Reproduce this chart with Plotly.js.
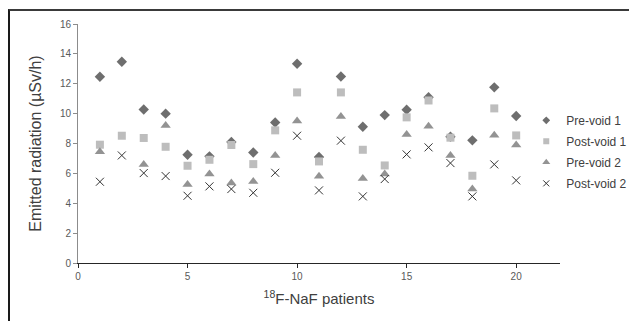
<!DOCTYPE html>
<html>
<head>
<meta charset="utf-8">
<script src="https://cdn.plot.ly/plotly-3.0.1.min.js"></script>
<style>
html,body{margin:0;padding:0;background:#fff;overflow:hidden;}
#wrap{position:relative;width:629px;height:321px;overflow:hidden;}
#chart{position:absolute;left:0;top:0;width:700px;height:321px;}
#frame{position:absolute;left:8px;top:9px;width:640px;height:330px;border-left:2px solid #1a1a1a;border-top:2px solid #3a3a3a;pointer-events:none;}
</style>
</head>
<body>
<div id="wrap"><div id="chart"></div><div id="frame"></div></div>
<script>
var patients = [1,2,3,4,5,6,7,8,9,10,11,12,13,14,15,16,17,18,19,20];
var preVoid1  = [12.47,13.47,10.28,10.0,7.25,7.14,8.1,7.4,9.41,13.34,7.1,12.49,9.12,9.9,10.26,11.1,8.45,8.21,11.76,9.84];
var postVoid1 = [7.92,8.52,8.37,7.78,6.51,6.91,7.9,6.62,8.88,11.42,6.8,11.42,7.58,6.53,9.75,10.88,8.39,5.84,10.35,8.54];
var preVoid2  = [7.45,null,6.6,9.2,5.25,5.95,5.35,5.45,7.2,9.5,5.8,9.8,5.65,5.95,8.6,9.15,7.2,4.95,8.55,7.9];
var postVoid2 = [5.44,7.2,6.02,5.82,4.5,5.13,4.95,4.7,6.04,8.52,4.86,8.19,4.46,5.62,7.27,7.74,6.69,4.46,6.6,5.53];
var seriesNames = ["Pre-void 1","Post-void 1","Pre-void 2","Post-void 2"];
var xTicks = [0,5,10,15,20];
var yTicks = [0,2,4,6,8,10,12,14,16];

var series = [preVoid1, postVoid1, preVoid2, postVoid2];
var styles = [
  {symbol:'diamond', size:8, color:'#6e6e6e'},
  {symbol:'square', size:8, color:'#bdbdbd'},
  {symbol:'triangle-up', size:9, color:'#939393'},
  {symbol:'x-thin-open', size:8, color:'#333333', line:{width:1, color:'#333333'}}
];
var legendSizes = [6,6,7,6];

var traces = [];
for (var i = 0; i < series.length; i++) {
  traces.push({x:patients, y:series[i], name:seriesNames[i], mode:'markers', type:'scatter',
    showlegend:false, legendgroup:'g'+i, marker:styles[i]});
}
// legend-only entries (smaller legend symbols like the reference)
for (var j = 0; j < series.length; j++) {
  var m = JSON.parse(JSON.stringify(styles[j]));
  m.size = legendSizes[j];
  traces.push({x:[null], y:[null], name:seriesNames[j], mode:'markers', type:'scatter',
    showlegend:true, legendgroup:'g'+j, marker:m});
}

var layout = {
  width:700, height:321,
  margin:{l:78, r:140, t:24, b:58, pad:0},
  paper_bgcolor:'#ffffff', plot_bgcolor:'#ffffff',
  font:{family:'"Liberation Sans", Arial, sans-serif', color:'#404040'},
  showlegend:true,
  legend:{x:0.93, y:0.465, xanchor:'left', yanchor:'middle', bgcolor:'rgba(0,0,0,0)',
          font:{size:12, color:'#404040'}, itemwidth:30, tracegroupgap:2},
  xaxis:{range:[0,22], tickvals:xTicks, ticktext:xTicks.map(String), showgrid:false, zeroline:false,
         showline:true, linecolor:'#262626', linewidth:1, ticks:'outside', ticklen:4, tickcolor:'#262626',
         tickfont:{size:10, color:'#595959'},
         title:{text:'<sup>18</sup>F-NaF patients', font:{size:15, color:'#404040'}, standoff:12}},
  yaxis:{range:[0,16], tickvals:yTicks, ticktext:yTicks.map(String), showgrid:false, zeroline:false,
         showline:true, linecolor:'#8c8c8c', linewidth:1, ticks:'outside', ticklen:4, tickcolor:'#8c8c8c',
         tickfont:{size:10, color:'#595959'},
         title:{text:'Emitted radiation (µSv/h)', font:{size:16, color:'#404040'}, standoff:14}}
};

Plotly.newPlot('chart', traces, layout, {staticPlot:true, displayModeBar:false});
</script>
</body>
</html>
